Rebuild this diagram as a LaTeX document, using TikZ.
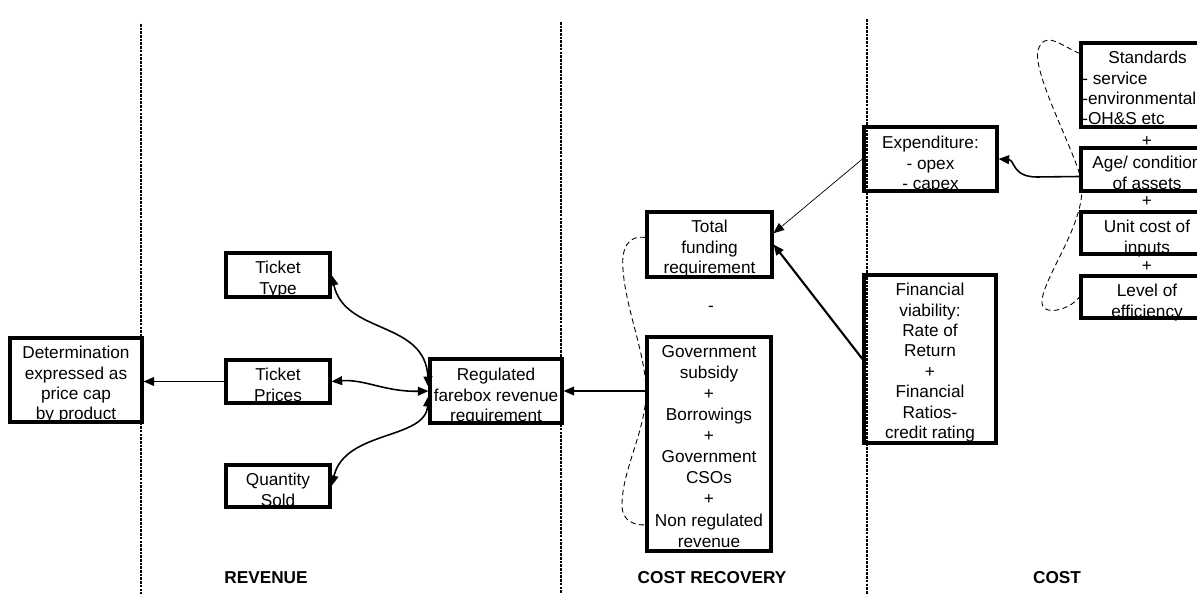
\documentclass[tikz,border=0pt]{standalone}
\usepackage{fontspec}
\setmainfont{Liberation Sans}
\usetikzlibrary{arrows.meta, calc}

\begin{document}
\begin{tikzpicture}[x=0.02cm, y=-0.02cm,
    txt/.style={anchor=north, align=center, inner sep=0pt, font=\fontsize{9.8}{11.6}\selectfont},
    box/.style={draw, line width=1.8pt, inner sep=0pt},
    sign/.style={inner sep=0pt, font=\fontsize{9.8}{11.6}\selectfont},
    head/.style={inner sep=0pt, font=\bfseries\fontsize{9.8}{11.6}\selectfont},
    sep/.style={line width=0.6pt, dash pattern=on 1.5pt off 0.6pt},
    link/.style={line width=0.9pt, -{Triangle[length=6pt,width=5pt]}},
    both/.style={line width=0.9pt, {Triangle[length=6pt,width=5pt]}-{Triangle[length=6pt,width=5pt]}},
    loop/.style={line width=0.5pt, densely dashed}]
  \useasboundingbox (0,0) rectangle (1197,594);
  \clip (0,0) rectangle (1197,594);

  % column separators
  \draw[sep] (141,24) -- (141,594);
  \draw[sep] (561,22) -- (561,594);
  \draw[sep] (867,19) -- (867,594);

  % revenue
  \node[txt] (detT) at (76,346) {Determination\\expressed as\\price cap\\by product};
  \node[box, minimum width=2.64cm, minimum height=1.68cm] (det) at (76,380) {};
  \node[txt] (ttypeT) at (278,261) {Ticket\\Type};
  \node[box, minimum width=2.08cm, minimum height=0.88cm] (ttype) at (278,275) {};
  \node[txt] (tpriceT) at (278,368) {Ticket\\Prices};
  \node[box, minimum width=2.08cm, minimum height=0.86cm] (tprice) at (278,381.5) {};
  \node[txt] (qsoldT) at (278,473) {Quantity\\Sold};
  \node[box, minimum width=2.08cm, minimum height=0.84cm] (qsold) at (278,486) {};
  \node[txt] (regT) at (496,368) {Regulated\\farebox revenue\\requirement};
  \node[box, minimum width=2.64cm, minimum height=1.28cm] (reg) at (496,391) {};

  % cost recovery
  \node[txt] (totalT) at (709.5,220) {Total\\funding\\requirement};
  \node[box, minimum width=2.5cm, minimum height=1.3cm] (total) at (709.5,244.5) {};
  \node[sign] (minus) at (711,309) {-};
  \node[txt, font=\fontsize{9.8}{12}\selectfont] (govtT) at (709,345) {Government\\subsidy\\+\\Borrowings\\+\\Government\\CSOs\\+\\Non regulated\\revenue};
  \node[box, minimum width=2.48cm, minimum height=4.28cm] (govt) at (709,444) {};

  % cost
  \node[txt] (expendT) at (930.5,136) {Expenditure:\\- opex\\- capex};
  \node[box, minimum width=2.66cm, minimum height=1.28cm] (expend) at (930.5,159) {};
  \node[txt] (finT) at (930,283) {Financial\\viability:\\Rate of\\Return\\+\\Financial\\Ratios-\\credit rating};
  \node[box, minimum width=2.64cm, minimum height=3.36cm] (fin) at (930,359) {};
  \node[txt, anchor=north west, align=left] (standT) at (1082,51) {\hspace*{0.52cm}Standards\\- service\\-environmental\\-OH\&S etc};
  \node[box, minimum width=2.64cm, minimum height=1.68cm] (stand) at (1147,85) {};
  \node[sign] (plusA) at (1147,142) {+};
  \node[txt] (ageT) at (1147,156) {Age/ condition\\of assets};
  \node[box, minimum width=2.64cm, minimum height=0.86cm] (age) at (1147,169.5) {};
  \node[sign] (plusB) at (1147,202) {+};
  \node[txt] (unitT) at (1147,220) {Unit cost of\\inputs};
  \node[box, minimum width=2.64cm, minimum height=0.84cm] (unit) at (1147,233) {};
  \node[sign] (plusC) at (1147,267) {+};
  \node[txt] (levelT) at (1147,284) {Level of\\efficiency};
  \node[box, minimum width=2.64cm, minimum height=0.84cm] (level) at (1147,297) {};

  % headings
  \node[head] (rev) at (266,578) {REVENUE};
  \node[head] (rec) at (712,578) {COST RECOVERY};
  \node[head] (cost) at (1057,578) {COST};

  % connectors
  \draw[link] (tprice.west) -- (tprice.west -| det.east);
  \draw[both] (tprice.east) .. controls (365,379) and (385,392) .. (reg.west);
  \draw[both] (ttype.east) .. controls (345,335) and (425,320) .. ($(reg.west)+(0,-4)$);
  \draw[both] ($(reg.west)+(0,5)$) .. controls (425,440) and (345,430) .. (qsold.east);
  \draw[link] (reg.east -| govt.west) -- (reg.east);
  \draw[link, line width=0.4pt] (expend.west) -- (total.10);
  \draw[link, line width=1.2pt] (fin.west) -- (total.east);
  \draw[link] ($(age.west)+(0,7)$) -- (1037,177) .. controls (1012,177) and (1015,160) .. (expend.east);
  \draw[loop] ($(total.west)+(0,-7)$) .. controls (628,235) and (621,248) .. (623,270)
    .. controls (626,310) and (646,355) .. (646,392) .. controls (646,430) and (622,470) .. (622,505)
    .. controls (622,522) and (635,525) .. ($(govt.west)+(0,81)$);
  \draw[loop] ($(stand.north west)+(0,12)$) .. controls (1060,45) and (1045,30) .. (1038,50)
    .. controls (1032,75) and (1080,160) .. (1082,185) .. controls (1084,225) and (1045,275) .. (1042,300)
    .. controls (1040,318) and (1070,310) .. (level.west);
\end{tikzpicture}
\end{document}
